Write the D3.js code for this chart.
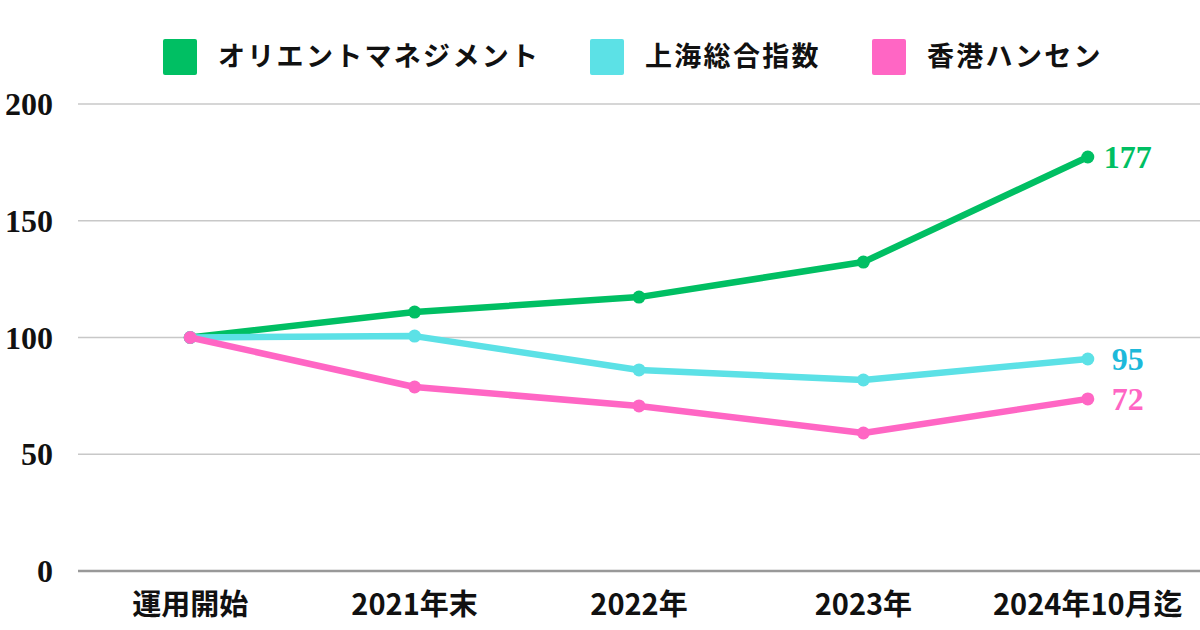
<!DOCTYPE html>
<html><head><meta charset="utf-8">
<script src="https://cdn.jsdelivr.net/npm/d3@7"></script>
<style>
html,body{margin:0;padding:0;background:#fff;}
svg{display:block;}
</style></head>
<body>
<svg id="chart" width="1200" height="630"></svg>
<script>
const categories = ["運用開始", "2021年末", "2022年", "2023年", "2024年10月迄"];
const seriesNames = ["オリエントマネジメント", "上海総合指数", "香港ハンセン"];
const orientValues = [100, 110.9, 117.3, 132.3, 177.3];
const shanghaiValues = [100, 100.6, 86.1, 81.8, 90.8];
const hangsengValues = [100, 78.8, 70.7, 59.1, 73.7];
const endLabels = ["177", "95", "72"];
const yTicks = [0, 50, 100, 150, 200];

const lineColors = ["#00BF63", "#5CE1E6", "#FF66C4"];
const labelColors = ["#00BF63", "#1DB9DA", "#FF66C4"];
const series = [orientValues, shanghaiValues, hangsengValues];

const serif = "'Liberation Serif','Noto Sans CJK JP',serif";
const jp = "'Noto Sans CJK JP','Liberation Serif',serif";

const svg = d3.select("#chart");
const mLeft = 78, mRight = 1200, mTop = 104, mBottom = 571;

const x = d3.scalePoint().domain(categories).range([mLeft, mRight]).padding(0.5);
const y = d3.scaleLinear().domain([0, 200]).range([mBottom, mTop]);

// grid
svg.append("g").selectAll("line").data(yTicks).join("line")
  .attr("x1", mLeft).attr("x2", mRight)
  .attr("y1", d => y(d)).attr("y2", d => y(d))
  .attr("stroke", d => d === 0 ? "#999" : "#c8c8c8")
  .attr("stroke-width", d => d === 0 ? 2.5 : 1.5);

// y labels
svg.append("g").selectAll("text").data(yTicks).join("text")
  .attr("x", 53).attr("y", d => y(d))
  .attr("dy", "0.35em")
  .attr("text-anchor", "end")
  .attr("font-family", serif).attr("font-weight", "bold")
  .attr("font-size", 32).attr("fill", "#111")
  .text(d => d);

// x labels
svg.append("g").selectAll("text").data(categories).join("text")
  .attr("x", d => x(d)).attr("y", 605)
  .attr("dy", "0.35em")
  .attr("text-anchor", "middle")
  .attr("font-family", jp).attr("font-weight", "bold")
  .attr("font-size", 29).attr("fill", "#111")
  .text(d => d);

// lines
const line = d3.line().x((d, i) => x(categories[i])).y(d => y(d));
series.forEach((vals, si) => {
  const g = svg.append("g");
  g.append("path").datum(vals).attr("d", line)
    .attr("fill", "none").attr("stroke", lineColors[si])
    .attr("stroke-width", 6.5).attr("stroke-linejoin", "round");
  g.selectAll("circle").data(vals).join("circle")
    .attr("cx", (d, i) => x(categories[i])).attr("cy", d => y(d))
    .attr("r", 6.5).attr("fill", lineColors[si]);
  const last = vals[vals.length - 1];
  g.append("text")
    .attr("x", x(categories[categories.length - 1]) + 40)
    .attr("y", y(last)).attr("dy", "0.35em")
    .attr("text-anchor", "middle")
    .attr("font-family", serif).attr("font-weight", "bold")
    .attr("font-size", 32).attr("fill", labelColors[si])
    .text(endLabels[si]);
});

// legend
const legendX = [163, 590, 872];
const leg = svg.append("g");
seriesNames.forEach((name, i) => {
  leg.append("rect").attr("x", legendX[i]).attr("y", 39)
    .attr("width", 34).attr("height", 36).attr("rx", 2)
    .attr("fill", lineColors[i]);
  leg.append("text").attr("x", legendX[i] + 55).attr("y", 57)
    .attr("dy", "0.35em")
    .attr("font-family", jp).attr("font-weight", "bold")
    .attr("font-size", 27).attr("letter-spacing", 2.3).attr("fill", "#111")
    .text(name);
});
</script>
</body></html>
